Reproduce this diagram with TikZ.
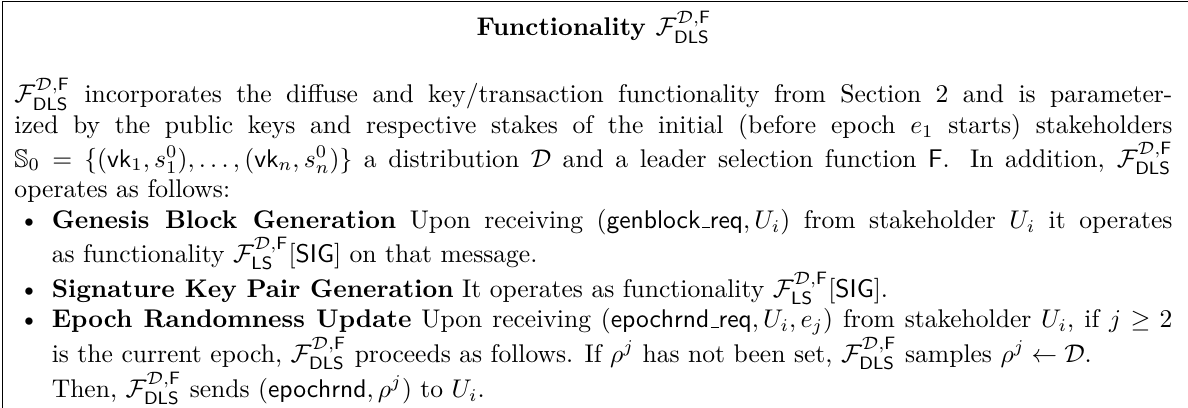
\documentclass[tikz,border=0pt]{standalone}
\usepackage{amsmath}
\usepackage{amssymb}
\usepackage{amsfonts}
\usepackage{enumitem}
\usetikzlibrary{positioning}

\newcommand{\Fdls}{\mathcal{F}^{\mathcal{D},\mathsf{F}}_{\mathsf{DLS}}}
\newcommand{\Fls}{\mathcal{F}^{\mathcal{D},\mathsf{F}}_{\mathsf{LS}}}
\newcommand{\lowbar}{\leavevmode\kern.06em\vbox{\hrule width.3em}}
\setlist[itemize]{leftmargin=14.6pt,topsep=0pt,partopsep=0pt,itemsep=0pt,parsep=0pt}

\begin{document}
\begin{tikzpicture}[x=0.725pt,y=0.725pt,yscale=-1,xscale=1]
    \useasboundingbox (0,0) rectangle (641,220.1);
    
    %Shape: Rectangle [id:frame] 
    \draw  [line width=0.4pt]  (1.6,0.6) -- (700,0.6) -- (700,300) -- (1.6,300) -- cycle ;
    
    % Text Node
    \draw (320.5,19.4) node (title) [anchor=base][inner sep=0.75pt]    {\textbf{Functionality $\Fdls$}};
    % Text Node
    \draw (6.5,55.4) node (body) [anchor=base west][inner sep=0.75pt]  [text width=453pt,align=justify]  {$\Fdls$ incorporates the diffuse and key/transaction functionality from Section 2 and is parameter-\linebreak ized by the public keys and respective stakes of the initial (before epoch $e_1$ starts) stakeholders\linebreak
    $\mathbb{S}_0=\{(\mathsf{vk}_1,s_1^0),\ldots,(\mathsf{vk}_n,s_n^0)\}$ a distribution $\mathcal{D}$ and a leader selection function $\mathsf{F}$. In addition, $\Fdls$\linebreak
    operates as follows:
    \begin{itemize}
    \item \textbf{Genesis Block Generation} Upon receiving $(\textsf{genblock\lowbar req},U_i)$ from stakeholder $U_i$ it operates\linebreak
    as functionality $\Fls[\mathsf{SIG}]$ on that message.
    \item \textbf{Signature Key Pair Generation} It operates as functionality $\Fls[\mathsf{SIG}]$.
    \item \textbf{Epoch Randomness Update} Upon receiving $(\textsf{epochrnd\lowbar req},U_i,e_j)$ from stakeholder $U_i$, if $j\geq 2$\linebreak
    is the current epoch, $\Fdls$ proceeds as follows. If $\rho^j$ has not been set, $\Fdls$ samples $\rho^j\leftarrow\mathcal{D}$.\newline
    Then, $\Fdls$ sends $(\textsf{epochrnd},\rho^j)$ to $U_i$.
    \end{itemize}};
    
\end{tikzpicture}
\end{document}
